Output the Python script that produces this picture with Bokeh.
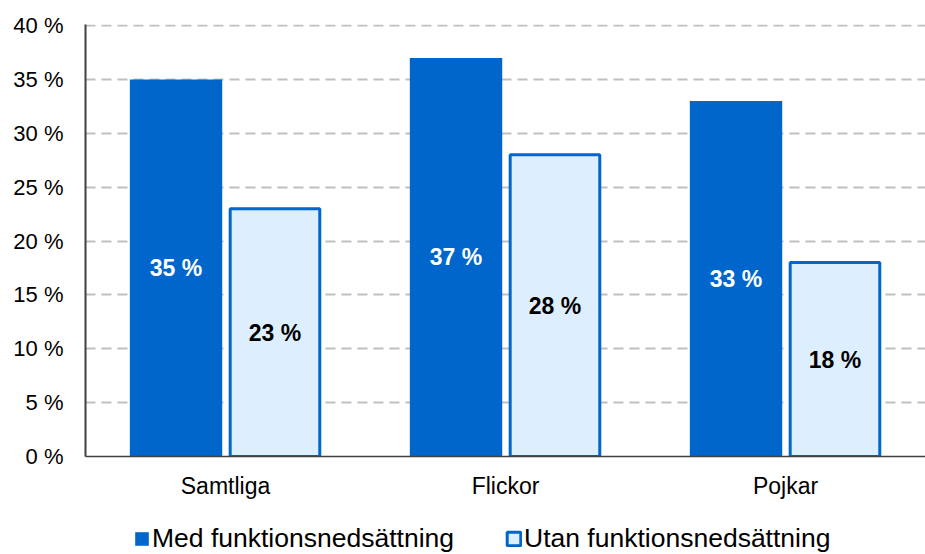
from bokeh.plotting import figure
from bokeh.layouts import column
from bokeh.models import (ColumnDataSource, FactorRange, Legend, LegendItem,
                          PrintfTickFormatter, FixedTicker, Range1d)
from bokeh.transform import dodge
from bokeh.core.properties import value
from bokeh.embed import file_html
from bokeh.resources import INLINE

categories = ["Samtliga", "Flickor", "Pojkar"]
med = [35, 37, 33]
utan = [23, 28, 18]
series_names = ["Med funktionsnedsättning", "Utan funktionsnedsättning"]
y_ticks = [0, 5, 10, 15, 20, 25, 30, 35, 40]

DARK = "#0066CC"
LIGHT = "#DDEEFF"
FONT = "Liberation Sans"
OFF = 0.1767

src = ColumnDataSource(dict(
    cat=categories,
    med=med,
    utan=utan,
    med_mid=[v / 2 for v in med],
    utan_mid=[v / 2 for v in utan],
    med_lbl=[f"{v} %" for v in med],
    utan_lbl=[f"{v} %" for v in utan],
))

p = figure(x_range=FactorRange(*categories), y_range=(0, 40.1),
           width=925, height=510, output_backend="svg", toolbar_location=None,
           min_border_left=85, min_border_right=0, min_border_top=24,
           min_border_bottom=54)
p.outline_line_color = None
p.background_fill_color = "white"
p.border_fill_color = "white"

r1 = p.vbar(x=dodge("cat", -OFF, range=p.x_range), top="med", width=0.33,
            source=src, fill_color=DARK, line_color=None)
r2 = p.vbar(x=dodge("cat", OFF, range=p.x_range), top="utan", width=0.32,
            source=src, fill_color=LIGHT, line_color=DARK, line_width=3)

p.text(x=dodge("cat", -OFF, range=p.x_range), y="med_mid", text="med_lbl",
       source=src, text_color="white", text_font=value(FONT),
       text_font_style="bold", text_font_size="23px",
       text_align="center", text_baseline="middle")
p.text(x=dodge("cat", OFF, range=p.x_range), y="utan_mid", text="utan_lbl",
       source=src, text_color="black", text_font=value(FONT),
       text_font_style="bold", text_font_size="23px",
       text_align="center", text_baseline="middle")

# grid
p.xgrid.grid_line_color = None
p.ygrid.grid_line_color = "#BFBFBF"
p.ygrid.grid_line_width = 2
p.ygrid.grid_line_dash = "10 6"
p.ygrid.ticker = FixedTicker(ticks=y_ticks)

# y axis
p.yaxis.ticker = FixedTicker(ticks=y_ticks)
p.yaxis.formatter = PrintfTickFormatter(format="%d %%")
p.yaxis.major_label_text_font = FONT
p.yaxis.major_label_text_font_size = "22px"
p.yaxis.major_label_text_color = "black"
p.yaxis.axis_line_color = "#404040"
p.yaxis.axis_line_width = 2
p.yaxis.major_tick_line_color = None
p.yaxis.minor_tick_line_color = None
p.yaxis.major_tick_out = 0
p.yaxis.major_tick_in = 0
p.yaxis.major_label_standoff = 22

# x axis
p.xaxis.major_label_text_font = FONT
p.xaxis.major_label_text_font_size = "23px"
p.xaxis.major_label_text_color = "black"
p.xaxis.axis_line_color = "#404040"
p.xaxis.axis_line_width = 1.5
p.xaxis.major_tick_line_color = None
p.xaxis.minor_tick_line_color = None
p.xaxis.major_tick_out = 0
p.xaxis.major_tick_in = 0
p.xaxis.major_label_standoff = 16

# legend strip below the chart (swatch renderers carry no drawable data)
lg = figure(width=925, height=44, output_backend="svg", toolbar_location=None,
            x_range=Range1d(0, 1), y_range=Range1d(0, 1),
            min_border_left=0, min_border_right=0, min_border_top=0,
            min_border_bottom=0)
lg.axis.visible = False
lg.grid.visible = False
lg.outline_line_color = None
lg.border_fill_color = "white"
swatch = ColumnDataSource(dict(x=[0.5], top=[float("nan")]))
l1 = lg.vbar(x="x", top="top", width=0.1, source=swatch,
             fill_color=DARK, line_color=None)
l2 = lg.vbar(x="x", top="top", width=0.1, source=swatch,
             fill_color=LIGHT, line_color=DARK, line_width=3)
legend = Legend(items=[LegendItem(label=series_names[0], renderers=[l1]),
                       LegendItem(label=series_names[1], renderers=[l2])],
                orientation="horizontal", location=(48, 0),
                label_text_font=FONT, label_text_font_size="26.5px",
                label_text_color="black",
                glyph_width=17, glyph_height=17, label_standoff=2, spacing=51,
                padding=0, margin=0, border_line_color=None,
                background_fill_alpha=0)
lg.add_layout(legend, "center")

layout = column(p, lg, spacing=0)
open("out.html", "w").write(file_html(layout, INLINE))
